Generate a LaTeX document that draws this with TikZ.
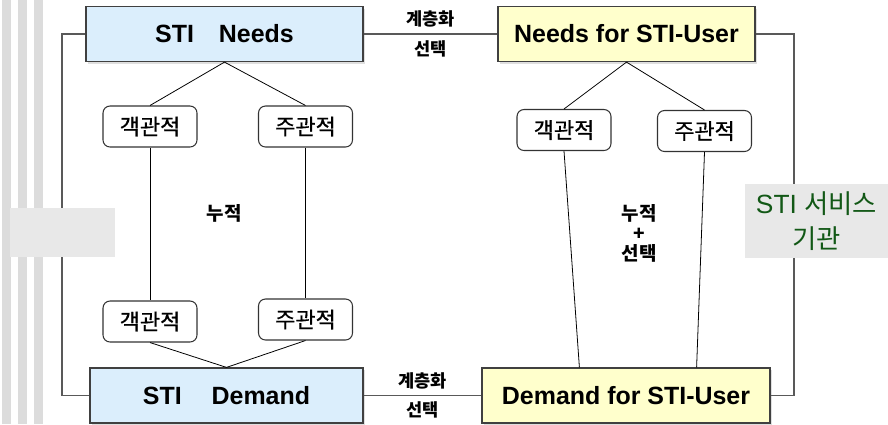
\documentclass[tikz,border=0pt]{standalone}
\usepackage{fontspec}
\setmainfont{Liberation Sans}
\newfontfamily\kr{Noto Sans CJK KR}
\newfontfamily\krbox[FakeBold=0.6]{Noto Sans CJK KR}
\usetikzlibrary{shadows}
\definecolor{needblue}{RGB}{219,238,252}
\definecolor{useryellow}{RGB}{255,255,204}
\definecolor{stripegray}{RGB}{220,220,220}
\definecolor{panelgray}{RGB}{232,232,232}
\definecolor{servgreen}{RGB}{18,88,22}

\begin{document}
\begin{tikzpicture}[x=0.02cm, y=-0.02cm,
	mainbox/.style={draw=black!75, line width=0.7pt, fill=needblue, minimum height=1.1cm,
		font=\fontsize{14.2}{17}\selectfont\bfseries,
		drop shadow={shadow xshift=1.2pt, shadow yshift=-1.2pt, fill=black!25}},
	userbox/.style={mainbox, fill=useryellow},
	kbox/.style={draw=black!80, line width=0.6pt, rounded corners=0.14cm, fill=white,
		minimum width=1.88cm, minimum height=0.82cm, font=\krbox\fontsize{12.5}{15}\selectfont},
	lbl/.style={font=\kr\bfseries\fontsize{10}{12}\selectfont},
	sumlbl/.style={align=center, font=\kr\bfseries\fontsize{10.8}{11.4}\selectfont},
	frame/.style={draw=black!65, line width=0.6pt},
	tree/.style={draw=black, line width=0.45pt}]
	\useasboundingbox (0,0) rectangle (888,424);
	\foreach \x in {2,18,34}
		\fill[stripegray] (\x,0) rectangle ++(9,424);

	\node[mainbox, minimum width=5.54cm](A) at (224.5,34){STI\quad Needs};
	\node[userbox, minimum width=5.14cm](B) at (626.5,34){Needs for STI-User};
	\node[mainbox, minimum width=5.46cm](C) at (226.5,395.5){STI\hspace{1.2em}Demand};
	\node[userbox, minimum width=5.76cm](D) at (626,395.5){Demand for STI-User};

	\node[kbox](E) at (150,126.5){객관적};
	\node[kbox](F) at (305.5,126.5){주관적};
	\node[kbox](G) at (150,321.5){객관적};
	\node[kbox](H) at (305.5,319.5){주관적};
	\node[kbox](I) at (564,130){객관적};
	\node[kbox](J) at (704.5,131){주관적};

	\node[sumlbl](M) at (224,213){누적};
	\node[sumlbl](N) at (639,233){누적\\+\\선택};

	\coordinate(P) at (62,0);
	\coordinate(Q) at (794,0);
	\draw[frame] (A.west) -- (A.west -| P) |- (C.west);
	\draw[frame] (B.east) -- (B.east -| Q) |- (D.east);
	\draw[frame] (A) -- node[lbl, above]{계층화} node[lbl, below]{선택} (B);
	\draw[frame] (C) -- node[lbl, above]{계층화} node[lbl, below]{선택} (D);

	\draw[tree] (E.north) -- (A.south) -- (F.north);
	\draw[tree] (B.south) -- (I.north) (B.south) -- (J.north);
	\draw[tree] (E) -- (G);
	\draw[tree] (F.south) -- (H.north);
	\draw[tree] (G.south) -- (C.north) -- (H.south);
	\draw[tree] (I.south) -- ([xshift=1.96cm]D.north west);
	\draw[tree] (J.south) -- ([xshift=-1.48cm]D.north east);

	\node[fill=panelgray, minimum width=2.86cm, minimum height=1.48cm, align=center,
		text=servgreen, font=\fontsize{15}{19.9}\selectfont](K) at (816.5,221){STI {\kr 서비스}\\{\kr 기관}};
	\fill[panelgray] (10,208) rectangle (115,257);
\end{tikzpicture}
\end{document}
